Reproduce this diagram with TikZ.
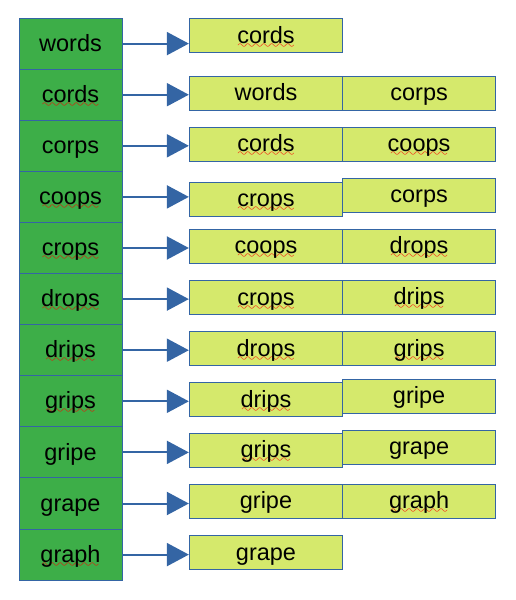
\documentclass[tikz,border=0pt]{standalone}
\usepackage{fontspec}
\setmainfont{Liberation Sans}
\usepackage{xcolor}
\usepackage{tikz}
\usetikzlibrary{arrows.meta}
\definecolor{cellgreen}{HTML}{3DAE48}
\definecolor{boxlime}{HTML}{D5E96C}
\definecolor{edgeblue}{HTML}{3465A4}
\tikzstyle{wordcell}=[rectangle,draw=edgeblue,fill=cellgreen,line width=1pt,minimum width=103pt,minimum height=51.1pt,inner sep=0pt,text height=20pt,text depth=4.8pt,font=\fontsize{23.5}{28}\selectfont]
\tikzstyle{neighbour}=[rectangle,draw=edgeblue,fill=boxlime,line width=1pt,minimum width=153.3pt,minimum height=34pt,inner sep=0pt,text height=20pt,text depth=4.8pt,font=\fontsize{23.5}{28}\selectfont]
\tikzstyle{link}=[draw=edgeblue,line width=2pt,-{Triangle[length=22pt,width=23pt]}]
\font\wavefont=lasy10 at 12pt
\newcommand\typo[1]{\setbox0\hbox{#1}\rlap{\lower5pt\hbox to\wd0{\color{red}\cleaders\hbox{\wavefont\char58}\hfill}}\box0}

\begin{document}
\begin{tikzpicture}[x=1pt,y=-1pt]
        \useasboundingbox (0,0) rectangle (515,600);

        \node at (70.5,43.6)  [wordcell] (w1)  {words};
        \node at (70.5,94.7)  [wordcell] (w2)  {\typo{cords}};
        \node at (70.5,145.8) [wordcell] (w3)  {corps};
        \node at (70.5,196.9) [wordcell] (w4)  {\typo{coops}};
        \node at (70.5,248.0) [wordcell] (w5)  {\typo{crops}};
        \node at (70.5,299.1) [wordcell] (w6)  {\typo{drops}};
        \node at (70.5,350.2) [wordcell] (w7)  {\typo{drips}};
        \node at (70.5,401.3) [wordcell] (w8)  {\typo{grips}};
        \node at (70.5,452.4) [wordcell] (w9)  {gripe};
        \node at (70.5,503.5) [wordcell] (w10) {grape};
        \node at (70.5,554.6) [wordcell] (w11) {\typo{graph}};

        \node at (266,35.7)    [neighbour] (n1a)  {\typo{cords}};
        \node at (266,93.3)    [neighbour] (n2a)  {words};
        \node at (419.1,93.3)  [neighbour] (n2b)  {corps};
        \node at (266,144.3)   [neighbour] (n3a)  {\typo{cords}};
        \node at (419.1,144.3) [neighbour] (n3b)  {\typo{coops}};
        \node at (266,199)     [neighbour] (n4a)  {\typo{crops}};
        \node at (419.1,195.3) [neighbour] (n4b)  {corps};
        \node at (266,246.3)   [neighbour] (n5a)  {\typo{coops}};
        \node at (419.1,246.3) [neighbour] (n5b)  {\typo{drops}};
        \node at (266,297.7)   [neighbour] (n6a)  {\typo{crops}};
        \node at (419.1,297.3) [neighbour] (n6b)  {\typo{drips}};
        \node at (266,348.7)   [neighbour] (n7a)  {\typo{drops}};
        \node at (419.1,348.7) [neighbour] (n7b)  {\typo{grips}};
        \node at (266,399.7)   [neighbour] (n8a)  {\typo{drips}};
        \node at (419.1,396.3) [neighbour] (n8b)  {gripe};
        \node at (266,450.3)   [neighbour] (n9a)  {\typo{grips}};
        \node at (419.1,447.3) [neighbour] (n9b)  {grape};
        \node at (266,501.3)   [neighbour] (n10a) {gripe};
        \node at (419.1,501.3) [neighbour] (n10b) {\typo{graph}};
        \node at (266,552.7)   [neighbour] (n11a) {grape};

        \draw [link] (w1.east)  -- (w1.east -| n1a.west);
        \draw [link] (w2.east)  -- (w2.east -| n2a.west);
        \draw [link] (w3.east)  -- (w3.east -| n3a.west);
        \draw [link] (w4.east)  -- (w4.east -| n4a.west);
        \draw [link] (w5.east)  -- (w5.east -| n5a.west);
        \draw [link] (w6.east)  -- (w6.east -| n6a.west);
        \draw [link] (w7.east)  -- (w7.east -| n7a.west);
        \draw [link] (w8.east)  -- (w8.east -| n8a.west);
        \draw [link] (w9.east)  -- (w9.east -| n9a.west);
        \draw [link] (w10.east) -- (w10.east -| n10a.west);
        \draw [link] (w11.east) -- (w11.east -| n11a.west);
\end{tikzpicture}
\end{document}
